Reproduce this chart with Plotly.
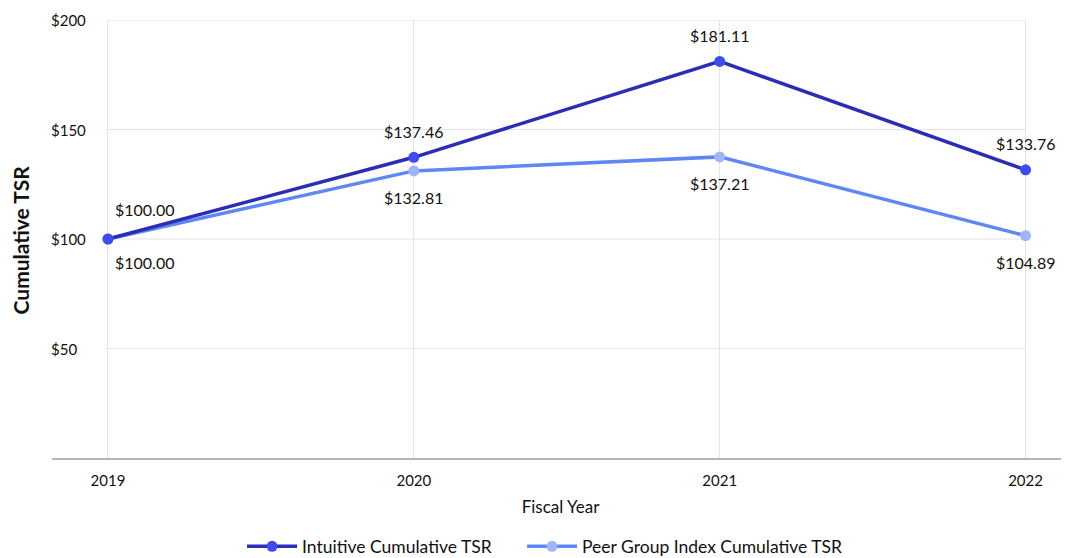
import plotly.graph_objects as go

# ---- data ----
years = [2019, 2020, 2021, 2022]
intuitive_tsr = [100.0, 137.3, 181.1, 131.6]
intuitive_labels = ["$100.00", "$137.46", "$181.11", "$133.76"]
peer_tsr = [100.0, 131.1, 137.5, 101.5]
peer_labels = ["$100.00", "$132.81", "$137.21", "$104.89"]
y_ticks = [50, 100, 150, 200]
y_tick_labels = ["$50", "$100", "$150", "$200"]

FONT = "Lato"
INT_LINE = "#2A2DB6"
INT_MARK = "#3D4CF0"
PEER_LINE = "#5E87F5"
PEER_MARK = "#9EB5FA"
GRID = "#E4E4E4"
TXT = "#111111"

fig = go.Figure()

fig.add_trace(go.Scatter(
    x=years, y=peer_tsr, name="Peer Group Index Cumulative TSR",
    mode="lines+markers", legend="legend2",
    line=dict(color=PEER_LINE, width=3.5),
    marker=dict(color=PEER_MARK, size=11),
    hoverinfo="skip",
))
fig.add_trace(go.Scatter(
    x=years, y=intuitive_tsr, name="Intuitive Cumulative TSR",
    mode="lines+markers", legend="legend",
    line=dict(color=INT_LINE, width=3.5),
    marker=dict(color=INT_MARK, size=11),
    hoverinfo="skip",
))

annotations = []
for i, (x, y, t) in enumerate(zip(years, intuitive_tsr, intuitive_labels)):
    annotations.append(dict(x=x, y=y, xref="x", yref="y", text=t, showarrow=False,
                            xshift=37 if i == 0 else 0, yshift=30 if i == 0 else 26,
                            font=dict(family=FONT, size=16, color=TXT)))
for i, (x, y, t) in enumerate(zip(years, peer_tsr, peer_labels)):
    annotations.append(dict(x=x, y=y, xref="x", yref="y", text=t, showarrow=False,
                            xshift=37 if i == 0 else 0, yshift=-23 if i == 0 else -27,
                            font=dict(family=FONT, size=16, color=TXT)))

# y tick labels (left-aligned, as in the reference)
for v, t in zip(y_ticks, y_tick_labels):
    annotations.append(dict(x=-0.003, y=v, xref="paper", yref="y", text=t, showarrow=False,
                            xanchor="left", yanchor="middle",
                            font=dict(family=FONT, size=15, color=TXT)))

# y axis title
annotations.append(dict(x=-0.0315, y=0.499, xref="paper", yref="paper",
                        text="<b>Cumulative TSR</b>", showarrow=False, textangle=-90,
                        xanchor="center", yanchor="middle",
                        font=dict(family=FONT, size=21, color=TXT)))

shapes = []
for yv in y_ticks:
    shapes.append(dict(type="line", xref="x", yref="y", x0=years[0], x1=years[-1],
                       y0=yv, y1=yv, line=dict(color=GRID, width=1), layer="below"))

legend_common = dict(orientation="h", xref="container", xanchor="left",
                     y=0.021, yref="container", yanchor="middle",
                     font=dict(family=FONT, size=17.5, color=TXT), itemwidth=50,
                     bgcolor="rgba(0,0,0,0)")

fig.update_layout(
    width=1061, height=550,
    margin=dict(l=44, r=0, t=12, b=100),
    paper_bgcolor="white", plot_bgcolor="white",
    font=dict(family=FONT, size=15, color=TXT),
    showlegend=True,
    legend=dict(x=0.2206, **legend_common),
    legend2=dict(x=0.4845, **legend_common),
    annotations=annotations,
    shapes=shapes,
    xaxis=dict(
        range=[2018.817, 2022.142], tickvals=years, ticktext=[str(y) for y in years],
        showgrid=True, gridcolor=GRID, gridwidth=1, zeroline=False,
        showline=True, linecolor="#B5B5B5", linewidth=1.5, ticks="",
        ticklabelstandoff=8, automargin=False,
        tickfont=dict(family=FONT, size=15, color=TXT),
        title=dict(text="Fiscal Year", standoff=13, font=dict(family=FONT, size=17, color=TXT)),
        fixedrange=True,
    ),
    yaxis=dict(
        range=[0, 200], tickvals=y_ticks, showticklabels=False,
        showgrid=False, zeroline=False, showline=False, ticks="",
        automargin=False, fixedrange=True,
    ),
)

fig.write_html("out.html")
